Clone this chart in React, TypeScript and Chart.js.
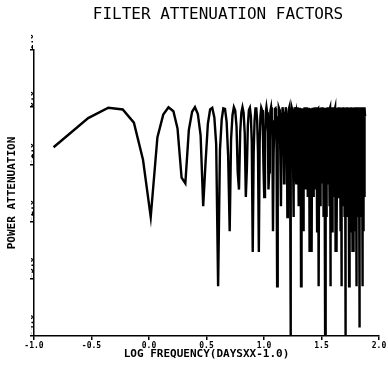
import React, { useEffect, useRef } from 'react';
import { Chart, registerables } from 'chart.js';

Chart.register(...registerables);

const TITLE = 'FILTER ATTENUATION FACTORS';
const X_TITLE = 'LOG FREQUENCY(DAYSXX-1.0)';
const Y_TITLE = 'POWER ATTENUATION';
const X_TICK_LOG = [-1, -0.5, 0, 0.5, 1, 1.5, 2];
const X_TICK_LABELS = ['-1.0', '-0.5', '0.0', '0.5', '1.0', '1.5', '2.0'];
const Y_TICK_LABELS = ['-4.0', '-3.0', '-2.0', '-1.0', '0.0', '1.0'];

// frequencies (days**-1), band by band
const FREQ_1 = [
  0.148, 0.296, 0.443, 0.591, 0.739, 0.887, 1.035, 1.183, 1.330, 1.478,
  1.63, 1.77, 1.92, 2.07, 2.22, 2.37, 2.51, 2.66, 2.81, 2.96,
  3.10, 3.25, 3.40, 3.55, 3.70, 3.84, 3.99, 4.14, 4.29, 4.43,
  4.58, 4.73, 4.88, 5.03, 5.17, 5.32, 5.47, 5.62, 5.77, 5.91,
  6.06, 6.21, 6.36, 6.50, 6.65, 6.80, 6.95, 7.10, 7.24, 7.39,
  7.54, 7.69, 7.83, 7.98, 8.13, 8.28, 8.43, 8.57, 8.72, 8.87,
  9.02, 9.17, 9.31, 9.46, 9.61, 9.76, 9.90, 10.05, 10.20, 10.35,
  10.50, 10.64, 10.79, 10.94, 11.09, 11.23, 11.38, 11.53, 11.68, 11.83,
  11.97, 12.12, 12.27, 12.42, 12.57, 12.71, 12.86, 13.01, 13.16, 13.30,
  13.45, 13.60, 13.75, 13.90, 14.04, 14.19, 14.34, 14.49, 14.63, 14.78,
  14.93, 15.08, 15.23, 15.37, 15.52, 15.67, 15.82, 15.97, 16.11, 16.26,
  16.41, 16.56, 16.70, 16.85, 17.00,
];
const FREQ_2 = [
  17.15, 17.30, 17.44, 17.59, 17.74, 17.89, 18.03, 18.18, 18.33, 18.48,
  18.63, 18.77, 18.92, 19.07, 19.22, 19.37, 19.51, 19.66, 19.81, 19.96,
  20.10, 20.25, 20.40, 20.55, 20.70, 20.84, 20.99, 21.14, 21.29, 21.43,
  21.58, 21.73, 21.88, 22.03, 22.17, 22.32, 22.47, 22.62, 22.77, 22.91,
  23.06, 23.21, 23.36, 23.50, 23.65, 23.80, 23.95, 24.10, 24.24, 24.39,
  24.54, 24.69, 24.83, 24.98, 25.13, 25.28, 25.43, 25.57, 25.72, 25.87,
  26.02, 26.17, 26.31, 26.46, 26.61, 26.76, 26.90, 27.05, 27.20, 27.35,
  27.50, 27.64, 27.79, 27.94, 28.09, 28.23, 28.38, 28.53, 28.68, 28.83,
  28.97, 29.12, 29.27, 29.42, 29.57, 29.71, 29.86, 30.01, 30.16, 30.30,
  30.45, 30.60, 30.75, 30.90, 31.04, 31.19, 31.34, 31.49, 31.63, 31.78,
  31.93, 32.08, 32.23, 32.37, 32.52, 32.67, 32.82, 32.97, 33.11, 33.26,
  33.41, 33.56, 33.70, 33.85, 34.00,
];
const FREQ_3 = [
  34.15, 34.30, 34.44, 34.59, 34.74, 34.89, 35.03, 35.18, 35.33, 35.48,
  35.63, 35.77, 35.92, 36.07, 36.22, 36.37, 36.51, 36.66, 36.81, 36.96,
  37.10, 37.25, 37.40, 37.55, 37.70, 37.84, 37.99, 38.14, 38.29, 38.43,
  38.58, 38.73, 38.88, 39.03, 39.17, 39.32, 39.47, 39.62, 39.77, 39.91,
  40.06, 40.21, 40.36, 40.50, 40.65, 40.80, 40.95, 41.10, 41.24, 41.39,
  41.54, 41.69, 41.83, 41.98, 42.13, 42.28, 42.43, 42.57, 42.72, 42.87,
  43.02, 43.17, 43.31, 43.46, 43.61, 43.76, 43.90, 44.05, 44.20, 44.35,
  44.50, 44.64, 44.79, 44.94, 45.09, 45.23, 45.38, 45.53, 45.68, 45.83,
  45.97, 46.12, 46.27, 46.42, 46.57, 46.71, 46.86, 47.01, 47.16, 47.30,
  47.45, 47.60, 47.75, 47.90, 48.04, 48.19, 48.34, 48.49, 48.63, 48.78,
  48.93, 49.08, 49.23, 49.37, 49.52, 49.67, 49.82, 49.97, 50.11, 50.26,
  50.41, 50.56, 50.70, 50.85, 51.00,
];
const FREQ_4 = [
  51.15, 51.30, 51.44, 51.59, 51.74, 51.89, 52.03, 52.18, 52.33, 52.48,
  52.63, 52.77, 52.92, 53.07, 53.22, 53.37, 53.51, 53.66, 53.81, 53.96,
  54.10, 54.25, 54.40, 54.55, 54.70, 54.84, 54.99, 55.14, 55.29, 55.43,
  55.58, 55.73, 55.88, 56.03, 56.17, 56.32, 56.47, 56.62, 56.77, 56.91,
  57.06, 57.21, 57.36, 57.50, 57.65, 57.80, 57.95, 58.10, 58.24, 58.39,
  58.54, 58.69, 58.83, 58.98, 59.13, 59.28, 59.43, 59.57, 59.72, 59.87,
  60.02, 60.17, 60.31, 60.46, 60.61, 60.76, 60.90, 61.05, 61.20, 61.35,
  61.50, 61.64, 61.79, 61.94, 62.09, 62.23, 62.38, 62.53, 62.68, 62.83,
  62.97, 63.12, 63.27, 63.42, 63.57, 63.71, 63.86, 64.01, 64.16, 64.30,
  64.45, 64.60, 64.75, 64.90, 65.04, 65.19, 65.34, 65.49, 65.63, 65.78,
  65.93, 66.08, 66.23, 66.37, 66.52, 66.67, 66.82, 66.97, 67.11, 67.26,
  67.41, 67.56, 67.70, 67.85, 68.00,
];
const FREQ_5 = [
  68.15, 68.30, 68.44, 68.59, 68.74, 68.89, 69.03, 69.18, 69.33, 69.48,
  69.63, 69.77, 69.92, 70.07, 70.22, 70.37, 70.51, 70.66, 70.81, 70.96,
  71.10, 71.25, 71.40, 71.55, 71.70, 71.84, 71.99, 72.14, 72.29, 72.43,
  72.58, 72.73, 72.88, 73.03, 73.17, 73.32, 73.47, 73.62, 73.77, 73.91,
  74.06, 74.21, 74.36, 74.50, 74.65, 74.80, 74.95, 75.10, 75.24, 75.39,
  75.54, 75.69,
];

// log10 power attenuation, band by band
const ATTEN_1 = [
  -0.70, -0.19, -0.01, -0.04, -0.27, -0.92, -1.92, -0.53, -0.13, 0.00,
  -0.07, -0.37, -1.23, -1.33, -0.40, -0.08, 0.00, -0.12, -0.49, -1.73,
  -0.98, -0.29, -0.04, -0.01, -0.18, -0.65, -3.13, -0.75, -0.21, -0.02,
  -0.03, -0.25, -0.86, -2.17, -0.57, -0.14, 0.00, -0.06, -0.34, -1.14,
  -1.44, -0.43, -0.09, 0.00, -0.10, -0.46, -1.57, -1.06, -0.32, -0.05,
  -0.01, -0.16, -0.61, -2.53, -0.80, -0.23, -0.02, -0.02, -0.23, -0.80,
  -2.53, -0.61, -0.16, -0.01, -0.05, -0.32, -1.06, -1.57, -0.46, -0.10,
  0.00, -0.09, -0.43, -1.44, -1.14, -0.34, -0.06, 0.00, -0.14, -0.57,
  -2.17, -0.86, -0.25, -0.03, -0.02, -0.21, -0.75, -3.13, -0.65, -0.18,
  -0.01, -0.04, -0.29, -0.98, -1.73, -0.49, -0.12, 0.00, -0.08, -0.40,
  -1.33, -1.23, -0.37, -0.07, 0.00, -0.13, -0.53, -1.92, -0.92, -0.27,
  -0.04, -0.01, -0.19, -0.70, -4.00,
];
const ATTEN_2 = [
  -0.70, -0.19, -0.01, -0.04, -0.27, -0.92, -1.92, -0.53, -0.13, 0.00,
  -0.07, -0.37, -1.23, -1.33, -0.40, -0.08, 0.00, -0.12, -0.49, -1.73,
  -0.98, -0.29, -0.04, -0.01, -0.18, -0.65, -3.13, -0.75, -0.21, -0.02,
  -0.03, -0.25, -0.86, -2.17, -0.57, -0.14, 0.00, -0.06, -0.34, -1.14,
  -1.44, -0.43, -0.09, 0.00, -0.10, -0.46, -1.57, -1.06, -0.32, -0.05,
  -0.01, -0.16, -0.61, -2.53, -0.80, -0.23, -0.02, -0.02, -0.23, -0.80,
  -2.53, -0.61, -0.16, -0.01, -0.05, -0.32, -1.06, -1.57, -0.46, -0.10,
  0.00, -0.09, -0.43, -1.44, -1.14, -0.34, -0.06, 0.00, -0.14, -0.57,
  -2.17, -0.86, -0.25, -0.03, -0.02, -0.21, -0.75, -3.13, -0.65, -0.18,
  -0.01, -0.04, -0.29, -0.98, -1.73, -0.49, -0.12, 0.00, -0.08, -0.40,
  -1.33, -1.23, -0.37, -0.07, 0.00, -0.13, -0.53, -1.92, -0.92, -0.27,
  -0.04, -0.01, -0.19, -0.70, -4.00,
];
const ATTEN_3 = [
  -0.70, -0.19, -0.01, -0.04, -0.27, -0.92, -1.92, -0.53, -0.13, 0.00,
  -0.07, -0.37, -1.23, -1.33, -0.40, -0.08, 0.00, -0.12, -0.49, -1.73,
  -0.98, -0.29, -0.04, -0.01, -0.18, -0.65, -3.13, -0.75, -0.21, -0.02,
  -0.03, -0.25, -0.86, -2.17, -0.57, -0.14, 0.00, -0.06, -0.34, -1.14,
  -1.44, -0.43, -0.09, 0.00, -0.10, -0.46, -1.57, -1.06, -0.32, -0.05,
  -0.01, -0.16, -0.61, -2.53, -0.80, -0.23, -0.02, -0.02, -0.23, -0.80,
  -2.53, -0.61, -0.16, -0.01, -0.05, -0.32, -1.06, -1.57, -0.46, -0.10,
  0.00, -0.09, -0.43, -1.44, -1.14, -0.34, -0.06, 0.00, -0.14, -0.57,
  -2.17, -0.86, -0.25, -0.03, -0.02, -0.21, -0.75, -3.13, -0.65, -0.18,
  -0.01, -0.04, -0.29, -0.98, -1.73, -0.49, -0.12, 0.00, -0.08, -0.40,
  -1.33, -1.23, -0.37, -0.07, 0.00, -0.13, -0.53, -1.92, -0.92, -0.27,
  -0.04, -0.01, -0.19, -0.70, -4.00,
];
const ATTEN_4 = [
  -0.70, -0.19, -0.01, -0.04, -0.27, -0.92, -1.92, -0.53, -0.13, 0.00,
  -0.07, -0.37, -1.23, -1.33, -0.40, -0.08, 0.00, -0.12, -0.49, -1.73,
  -0.98, -0.29, -0.04, -0.01, -0.18, -0.65, -3.13, -0.75, -0.21, -0.02,
  -0.03, -0.25, -0.86, -2.17, -0.57, -0.14, 0.00, -0.06, -0.34, -1.14,
  -1.44, -0.43, -0.09, 0.00, -0.10, -0.46, -1.57, -1.06, -0.32, -0.05,
  -0.01, -0.16, -0.61, -2.53, -0.80, -0.23, -0.02, -0.02, -0.23, -0.80,
  -2.53, -0.61, -0.16, -0.01, -0.05, -0.32, -1.06, -1.57, -0.46, -0.10,
  0.00, -0.09, -0.43, -1.44, -1.14, -0.34, -0.06, 0.00, -0.14, -0.57,
  -2.17, -0.86, -0.25, -0.03, -0.02, -0.21, -0.75, -3.13, -0.65, -0.18,
  -0.01, -0.04, -0.29, -0.98, -1.73, -0.49, -0.12, 0.00, -0.08, -0.40,
  -1.33, -1.23, -0.37, -0.07, 0.00, -0.13, -0.53, -1.92, -0.92, -0.27,
  -0.04, -0.01, -0.19, -0.70, -3.85,
];
const ATTEN_5 = [
  -0.70, -0.19, -0.01, -0.04, -0.27, -0.92, -1.92, -0.53, -0.13, 0.00,
  -0.07, -0.37, -1.23, -1.33, -0.40, -0.08, 0.00, -0.12, -0.49, -1.73,
  -0.98, -0.29, -0.04, -0.01, -0.18, -0.65, -3.13, -0.75, -0.21, -0.02,
  -0.03, -0.25, -0.86, -2.17, -0.57, -0.14, 0.00, -0.06, -0.34, -1.14,
  -1.44, -0.43, -0.09, 0.00, -0.10, -0.46, -1.57, -1.06, -0.32, -0.05,
  -0.01, -0.16,
];

const FREQ = [...FREQ_1, ...FREQ_2, ...FREQ_3, ...FREQ_4, ...FREQ_5];
const ATTEN = [...ATTEN_1, ...ATTEN_2, ...ATTEN_3, ...ATTEN_4, ...ATTEN_5];

const MONO = 'DejaVu Sans Mono';

export default function App() {
  const ref = useRef<HTMLCanvasElement>(null);

  useEffect(() => {
    const canvas = ref.current;
    if (!canvas) return;

    const titlePlugin = {
      id: 'plotTitle',
      afterDraw(chart: any) {
        const ctx = chart.ctx;
        ctx.save();
        ctx.font = `16px "${MONO}"`;
        ctx.fillStyle = '#000';
        ctx.textAlign = 'center';
        ctx.textBaseline = 'middle';
        ctx.fillText(TITLE, 218, 15);
        ctx.restore();
      },
    };

    const chart = new Chart(canvas, {
      type: 'line',
      data: {
        datasets: [
          {
            data: FREQ.map((f, i) => ({ x: f, y: ATTEN[i] })),
            borderColor: '#000',
            borderWidth: 2.4,
            pointRadius: 0,
            tension: 0,
            fill: false,
          },
        ],
      },
      options: {
        responsive: false,
        animation: false,
        devicePixelRatio: 1,
        layout: { padding: { left: 31, right: 9, top: 50, bottom: 0 } },
        plugins: {
          legend: { display: false },
          tooltip: { enabled: false },
          title: { display: false },
        },
        scales: {
          x: {
            type: 'logarithmic',
            min: 0.1,
            max: 100,
            afterBuildTicks: (s: any) => {
              s.ticks = X_TICK_LOG.map((t) => ({ value: Math.pow(10, t) }));
            },
            afterFit: (s: any) => {
              s.height = 31;
            },
            ticks: {
              callback: (_v: any, i: number) => X_TICK_LABELS[i],
              autoSkip: false,
              minRotation: 0,
              maxRotation: 0,
              padding: 1,
              color: '#000',
              font: { family: MONO, size: 8, weight: 'bold' },
            },
            grid: {
              display: true,
              drawOnChartArea: false,
              drawTicks: true,
              tickLength: 4,
              color: '#000',
              lineWidth: 1.5,
            },
            border: { display: true, color: '#000', width: 1.5 },
            title: {
              display: true,
              text: X_TITLE,
              color: '#000',
              font: { family: MONO, size: 11, weight: 'bold' },
              padding: { top: 0, bottom: 6 },
            },
          },
          y: {
            type: 'linear',
            min: -4,
            max: 1,
            afterFit: (s: any) => {
              s.width = 3;
            },
            ticks: {
              stepSize: 1,
              callback: (_v: any, i: number) => Y_TICK_LABELS[i],
              minRotation: 90,
              maxRotation: 90,
              crossAlign: 'far',
              padding: 0,
              color: '#000',
              font: { family: MONO, size: 9, weight: 'bold' },
            },
            grid: {
              display: true,
              drawOnChartArea: false,
              drawTicks: true,
              tickLength: 4,
              color: '#000',
              lineWidth: 1.5,
            },
            border: { display: true, color: '#000', width: 1.5 },
            title: {
              display: true,
              text: Y_TITLE,
              color: '#000',
              font: { family: MONO, size: 11, weight: 'bold' },
              padding: { top: -25, bottom: 0 },
            },
          },
        },
      } as any,
      plugins: [titlePlugin],
    });

    return () => chart.destroy();
  }, []);

  return (
    <div style={{ position: 'fixed', left: 0, top: 0, width: 388, height: 367, background: '#fff' }}>
      <canvas ref={ref} width={388} height={367} style={{ display: 'block' }} />
    </div>
  );
}
